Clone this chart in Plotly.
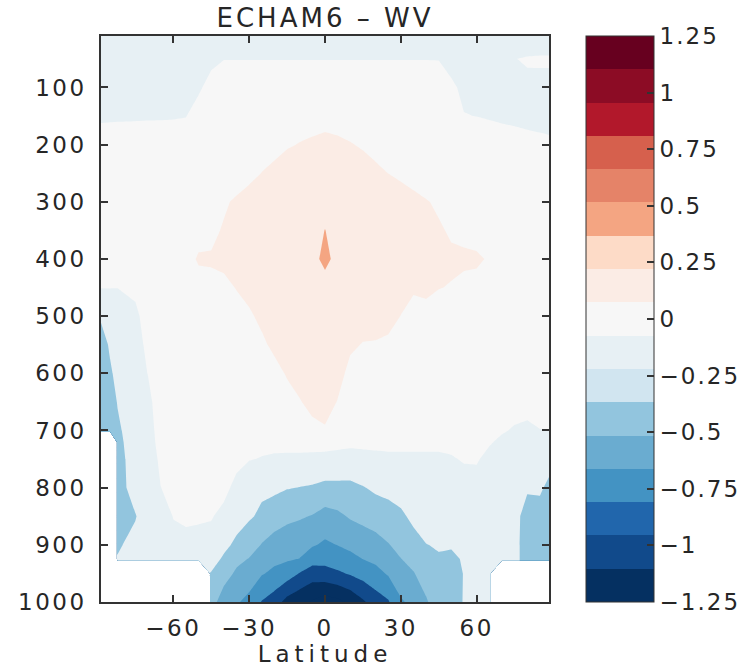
import math
import plotly.graph_objects as go

# ---------------- data ----------------
LAT = [-88.6, -85, -82, -75, -70, -65, -60, -55, -50, -45, -40, -35, -30, -25, -20, -15, -10, -5, 0,
       5, 10, 15, 20, 25, 30, 35, 40, 45, 50, 55, 60, 65, 70, 75, 80, 85, 88.6]
PRESSURE = [10, 50, 100, 150, 200, 250, 300, 350, 400, 450, 500, 550, 600, 650,
            700, 720, 750, 800, 850, 900, 925, 950, 1000]
N = None  # missing (below ground)

WV_DIFF = [
    # 10 hPa
    [-0.10, -0.10, -0.10, -0.10, -0.10, -0.10, -0.10, -0.10, -0.10, -0.08,
     -0.05, -0.05, -0.05, -0.05, -0.05, -0.05, -0.05, -0.05, -0.05, -0.05,
     -0.05, -0.05, -0.05, -0.05, -0.05, -0.05, -0.05, -0.05, -0.08, -0.10,
     -0.10, -0.10, -0.10, -0.12, -0.18, -0.18, -0.18],
    # 50
    [-0.08, -0.08, -0.08, -0.08, -0.08, -0.08, -0.08, -0.08, -0.06, -0.04,
     -0.004, -0.004, -0.004, -0.004, -0.004, -0.004, -0.004, -0.004, -0.004, -0.004,
     -0.004, -0.004, -0.004, -0.004, -0.004, -0.004, -0.004, -0.006, -0.05, -0.08,
     -0.08, -0.08, -0.08, -0.005, 0.02, 0.03, 0.03],
    # 100
    [-0.07, -0.07, -0.07, -0.07, -0.07, -0.07, -0.07, -0.05, -0.026, 0.06,
     0.10, 0.10, 0.10, 0.10, 0.10, 0.10, 0.10, 0.10, 0.10, 0.10,
     0.10, 0.10, 0.10, 0.10, 0.10, 0.10, 0.10, 0.10, 0.025, -0.03,
     -0.05, -0.05, -0.05, -0.05, -0.045, -0.064, -0.064],
    # 150
    [-0.024, -0.022, -0.02, -0.018, -0.016, -0.015, -0.012, -0.005, 0.074, 0.10,
     0.10, 0.10, 0.10, 0.10, 0.10, 0.10, 0.10, 0.10, 0.10, 0.10,
     0.10, 0.10, 0.10, 0.10, 0.10, 0.10, 0.10, 0.10, 0.10, 0.005,
     -0.002, -0.014, -0.026, -0.036, -0.048, -0.058, -0.066],
    # 200
    [0.076, 0.078, 0.08, 0.082, 0.084, 0.085, 0.088, 0.095, 0.10, 0.10,
     0.10, 0.10, 0.10, 0.10, 0.10, 0.18, 0.209, 0.239, 0.279, 0.247,
     0.211, 0.18, 0.10, 0.10, 0.10, 0.10, 0.10, 0.10, 0.10, 0.105,
     0.098, 0.086, 0.074, 0.064, 0.052, 0.042, 0.034],
    # 250
    [0.10, 0.10, 0.10, 0.10, 0.10, 0.10, 0.10, 0.10, 0.10, 0.10,
     0.10, 0.10, 0.14, 0.204, 0.279, 0.305, 0.33, 0.35, 0.36, 0.35,
     0.33, 0.28, 0.267, 0.198, 0.14, 0.10, 0.10, 0.10, 0.10, 0.10,
     0.10, 0.10, 0.10, 0.10, 0.10, 0.10, 0.10],
    # 300
    [0.10, 0.10, 0.10, 0.10, 0.10, 0.10, 0.10, 0.10, 0.10, 0.10,
     0.174, 0.228, 0.29, 0.32, 0.34, 0.35, 0.36, 0.36, 0.36, 0.36,
     0.36, 0.36, 0.36, 0.35, 0.34, 0.267, 0.211, 0.174, 0.10, 0.10,
     0.10, 0.10, 0.10, 0.10, 0.10, 0.10, 0.10],
    # 350
    [0.10, 0.10, 0.10, 0.10, 0.10, 0.10, 0.10, 0.10, 0.15, 0.16,
     0.217, 0.27, 0.31, 0.33, 0.34, 0.35, 0.355, 0.36, 0.402, 0.36,
     0.355, 0.35, 0.34, 0.33, 0.32, 0.30, 0.26, 0.219, 0.181, 0.14,
     0.16, 0.10, 0.10, 0.10, 0.10, 0.10, 0.10],
    # 400
    [0.10, 0.10, 0.10, 0.10, 0.10, 0.10, 0.12, 0.15, 0.215, 0.217,
     0.26, 0.30, 0.33, 0.34, 0.35, 0.35, 0.35, 0.34, 0.45, 0.34,
     0.35, 0.35, 0.34, 0.33, 0.32, 0.30, 0.28, 0.26, 0.226, 0.24,
     0.215, 0.19, 0.12, 0.10, 0.10, 0.10, 0.10],
    # 450
    [0.005, 0.003, 0.002, 0.03, 0.10, 0.10, 0.10, 0.10, 0.15, 0.16,
     0.14, 0.21, 0.27, 0.30, 0.32, 0.33, 0.33, 0.33, 0.32, 0.33,
     0.33, 0.32, 0.31, 0.29, 0.27, 0.23, 0.24, 0.205, 0.192, 0.145,
     0.17, 0.15, 0.10, 0.10, 0.10, 0.10, 0.10],
    # 500
    [-0.17, -0.10, -0.08, -0.03, 0.06, 0.10, 0.10, 0.10, 0.10, 0.10,
     0.10, 0.11, 0.167, 0.25, 0.30, 0.31, 0.32, 0.32, 0.31, 0.31,
     0.30, 0.28, 0.27, 0.25, 0.197, 0.115, 0.14, 0.12, 0.10, 0.10,
     0.10, 0.10, 0.10, 0.10, 0.10, 0.10, 0.10],
    # 550
    [-0.30, -0.17, -0.11, -0.07, 0.04, 0.10, 0.10, 0.10, 0.10, 0.10,
     0.10, 0.10, 0.10, 0.157, 0.25, 0.28, 0.29, 0.29, 0.28, 0.26,
     0.23, 0.191, 0.187, 0.172, 0.15, 0.10, 0.10, 0.10, 0.10, 0.10,
     0.10, 0.10, 0.10, 0.10, 0.10, 0.10, 0.10],
    # 600
    [-0.33, -0.23, -0.14, -0.09, 0.005, 0.10, 0.10, 0.10, 0.10, 0.10,
     0.10, 0.10, 0.10, 0.10, 0.125, 0.22, 0.28, 0.29, 0.29, 0.27,
     0.147, 0.12, 0.10, 0.10, 0.10, 0.10, 0.10, 0.10, 0.10, 0.10,
     0.10, 0.10, 0.10, 0.10, 0.10, 0.10, 0.10],
    # 650
    [-0.35, -0.28, -0.19, -0.10, -0.05, 0.10, 0.10, 0.10, 0.10, 0.10,
     0.10, 0.10, 0.10, 0.10, 0.10, 0.12, 0.187, 0.26, 0.28, 0.192,
     0.12, 0.11, 0.10, 0.10, 0.10, 0.10, 0.10, 0.10, 0.10, 0.10,
     0.10, 0.10, 0.10, 0.04, 0.03, 0.06, 0.07],
    # 700
    [-0.35, -0.30, -0.23, -0.10, -0.08, 0.08, 0.10, 0.10, 0.10, 0.10,
     0.10, 0.10, 0.10, 0.10, 0.10, 0.10, 0.10, 0.145, 0.18, 0.12,
     0.11, 0.10, 0.09, 0.08, 0.08, 0.08, 0.08, 0.08, 0.08, 0.08,
     0.09, 0.05, 0.01, -0.01, -0.017, -0.004, 0.001],
    # 720
    [N, N, -0.25, -0.10, -0.08, 0.06, 0.09, 0.09, 0.09, 0.09,
     0.08, 0.07, 0.04, 0.025, 0.02, 0.025, 0.025, 0.025, 0.094, 0.04,
     0.03, 0.035, 0.04, 0.04, 0.04, 0.04, 0.04, 0.04, 0.03, 0.05,
     0.06, 0.01, -0.02, -0.03, -0.04, -0.04, -0.03],
    # 750
    [N, N, -0.27, -0.11, -0.09, 0.03, 0.07, 0.08, 0.08, 0.07,
     0.07, 0.04, 0.005, -0.005, -0.01, -0.015, -0.015, -0.017, -0.072, -0.045,
     -0.05, -0.045, -0.04, -0.03, -0.03, -0.03, -0.03, -0.03, -0.01, 0.01,
     0.01, -0.03, -0.04, -0.04, -0.09, -0.12, -0.15],
    # 800
    [N, N, -0.28, -0.12, -0.10, -0.002, 0.04, 0.06, 0.06, 0.05,
     0.04, -0.04, -0.08, -0.17, -0.17, -0.19, -0.205, -0.22, -0.24, -0.25,
     -0.25, -0.21, -0.17, -0.15, -0.10, -0.08, -0.07, -0.06, -0.06, -0.05,
     -0.04, -0.06, -0.07, -0.08, -0.17, -0.18, -0.23],
    # 850
    [N, N, -0.27, -0.21, -0.10, -0.08, 0.005, 0.03, 0.02, 0.01,
     -0.04, -0.12, -0.18, -0.23, -0.28, -0.36, -0.38, -0.41, -0.475, -0.44,
     -0.38, -0.35, -0.30, -0.27, -0.24, -0.15, -0.10, -0.10, -0.10, -0.08,
     -0.08, -0.08, -0.09, -0.12, -0.30, -0.25, -0.27],
    # 900
    [N, N, -0.22, -0.15, -0.08, -0.08, -0.04, -0.05, -0.05, -0.05,
     -0.15, -0.24, -0.30, -0.41, -0.50, -0.50, -0.53, -0.58, -0.63, -0.595,
     -0.55, -0.50, -0.48, -0.41, -0.34, -0.28, -0.205, -0.18, -0.19, -0.12,
     -0.10, -0.10, -0.11, -0.12, -0.32, -0.30, -0.30],
    # 925
    [N, N, -0.19, -0.12, -0.08, -0.08, -0.05, -0.06, -0.06, -0.12,
     -0.23, -0.34, -0.41, -0.50, -0.56, -0.58, -0.605, -0.72, -0.74, -0.70,
     -0.66, -0.598, -0.56, -0.50, -0.405, -0.34, -0.25, -0.22, -0.22, -0.19,
     -0.10, -0.10, -0.11, -0.12, -0.32, -0.30, -0.30],
    # 950
    [N, N, N, N, N, N, N, N, N, -0.21,
     -0.30, -0.44, -0.50, -0.585, -0.64, -0.70, -0.81, -0.90, -0.87, -0.83,
     -0.78, -0.72, -0.66, -0.58, -0.50, -0.41, -0.32, -0.25, -0.25, -0.195,
     -0.10, -0.10, N, N, N, N, N],
    # 1000
    [N, N, N, N, N, N, N, N, N, -0.30,
     -0.527, -0.58, -0.651, -0.81, -0.90, -1.072, -1.15, -1.22, -1.30, -1.25,
     -1.16, -1.03, -0.90, -0.82, -0.62, -0.5575, -0.42, -0.30, -0.27, -0.19,
     -0.10, -0.10, N, N, N, N, N],
]

for i, row in enumerate(WV_DIFF):
    if len(row) != len(LAT):
        raise ValueError(f"row {PRESSURE[i]} has {len(row)} values")

X_TICKS = [-60, -30, 0, 30, 60]
X_LABELS = ["\u221260", "\u221230", "0", "30", "60"]
Y_TICKS = [100, 200, 300, 400, 500, 600, 700, 800, 900, 1000]
Y_LABELS = ["100", "200", "300", "400", "500", "600", "700", "800", "900", "1000"]
CB_TICKS = [-1.25, -1.0, -0.75, -0.5, -0.25, 0, 0.25, 0.5, 0.75, 1.0, 1.25]
CB_LABELS = ["\u22121.25", "\u22121", "\u22120.75", "\u22120.5", "\u22120.25", "0",
             "0.25", "0.5", "0.75", "1", "1.25"]

# colour map: 17 steps from -1.25 to 1.25
CB_COLORS = ["#053061", "#114a8b", "#2166ac", "#4393c3", "#6aacd0", "#92c5de",
             "#d1e5f0", "#e7f0f4", "#f7f7f7", "#fbece5", "#fddbc7", "#f4a582",
             "#e58368", "#d6604d", "#b2182b", "#8c0c25", "#67001f"]
CMIN, CMAX = -1.25, 1.25
LEV_START, LEV_END, LEV_STEP = -1.2, 1.2, 0.2

# ---------------- styling ----------------
FONT = "DejaVu Sans"
TXT = "#262626"
AX = "#333333"


def spaced(s, px):
    return f'<span style="letter-spacing:{px}px">{s}</span>'


ncol = len(CB_COLORS)
cb_scale = []
for i, c in enumerate(CB_COLORS):
    cb_scale.append([i / ncol, c])
    cb_scale.append([(i + 1) / ncol, c])

# each filled band takes the colour of its lower contour level
nlev = int(round((LEV_END - LEV_START) / LEV_STEP)) + 1
nband = nlev + 1
band_colors = []
for k in range(nband):
    lower = LEV_START + (k - 1) * LEV_STEP
    idx = int(math.floor((lower - CMIN) / (CMAX - CMIN) * ncol))
    idx = max(0, min(ncol - 1, idx))
    band_colors.append(CB_COLORS[idx])
contour_scale = [[k / (nband - 1), c] for k, c in enumerate(band_colors)]

fig = go.Figure()
fig.add_trace(go.Contour(
    x=LAT, y=PRESSURE, z=WV_DIFF,
    autocontour=False,
    contours=dict(start=LEV_START, end=LEV_END, size=LEV_STEP,
                  coloring="fill", showlines=False),
    colorscale=contour_scale,
    line=dict(width=0, smoothing=0),
    connectgaps=False,
    showscale=False,
    hoverinfo="skip",
))

L, R, T, B = 101, 196, 36, 69
W, H = 745, 671
plot_w = W - L - R

fig.add_trace(go.Scatter(
    x=[0], y=[500], mode="markers", hoverinfo="skip", showlegend=False,
    marker=dict(size=1, opacity=0, color=[0], colorscale=cb_scale,
                cmin=CMIN, cmax=CMAX, showscale=True,
                colorbar=dict(
                    x=(586 - L) / plot_w, xanchor="left", xpad=0,
                    y=0.5, yanchor="middle", len=1, lenmode="fraction", ypad=0,
                    thickness=68, thicknessmode="pixels",
                    outlinewidth=1, outlinecolor=AX,
                    tickmode="array", tickvals=CB_TICKS,
                    ticktext=[spaced(t, 2) for t in CB_LABELS],
                    ticks="inside", ticklen=7, tickwidth=1.5, tickcolor=AX,
                    tickfont=dict(family=FONT, size=23, color=TXT),
                )),
))

axis_common = dict(
    ticks="inside", ticklen=7, tickwidth=1.5, tickcolor=AX,
    showline=True, linecolor=AX, linewidth=1.5, mirror="ticks",
    showgrid=False, zeroline=False,
    tickfont=dict(family=FONT, size=23, color=TXT),
)

fig.update_layout(
    width=W, height=H,
    margin=dict(l=L, r=R, t=T, b=B, autoexpand=False),
    paper_bgcolor="white", plot_bgcolor="white",
    title=dict(text=spaced("ECHAM6 \u2013 WV", 3), x=0.5, xref="paper", xanchor="center",
               y=1 - 18 / H, yref="container", yanchor="middle",
               font=dict(family=FONT, size=26, color=TXT)),
    xaxis=dict(range=[-88.6, 88.6], tickmode="array", tickvals=X_TICKS,
               ticktext=[spaced(t, 2.5) for t in X_LABELS], ticklabelstandoff=5,
               title=dict(text=spaced("Latitude", 5), standoff=5,
                          font=dict(family=FONT, size=23, color=TXT)),
               **axis_common),
    yaxis=dict(range=[1000, 10], tickmode="array", tickvals=Y_TICKS,
               ticktext=[spaced(t, 2.5) for t in Y_LABELS], ticklabelstandoff=8,
               **axis_common),
)

fig.write_html("out.html")
